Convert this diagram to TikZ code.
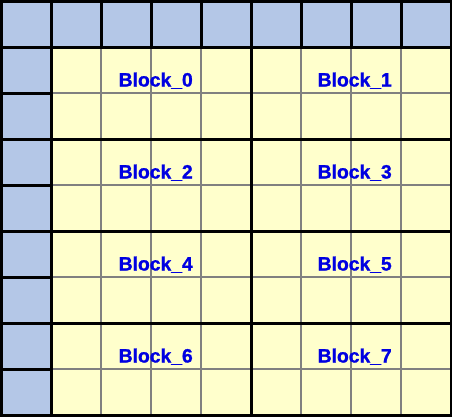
\documentclass[tikz,border=0pt]{standalone}
\usepackage{fontspec}
\setmainfont{Liberation Sans}
\newfontfamily\lblfont[FakeBold=1.2]{Liberation Sans Bold}
\definecolor{hdrblue}{RGB}{180,199,231}
\definecolor{cellyellow}{RGB}{255,255,204}
\definecolor{gridgray}{RGB}{128,128,128}
\definecolor{txtblue}{RGB}{0,0,225}
\tikzset{
  thickline/.style={draw=black,line width=3pt,line cap=rect},
  thinline/.style={draw=gridgray,line width=2pt},
  blocklabel/.style={anchor=base west,inner sep=0pt,text=txtblue,font=\lblfont\fontsize{19.3pt}{21pt}\selectfont}
}
\begin{document}
\begin{tikzpicture}[x=1pt,y=-1pt]
\useasboundingbox (0,0) rectangle (452,416);
% fills
\fill[hdrblue] (1,1) rectangle (451,47);
\fill[hdrblue] (1,47) rectangle (51,415);
\fill[cellyellow] (51,47) rectangle (451,415);
% thin gray grid in yellow area
\foreach \x in {101,151,201,301,351,401} \draw[thinline] (\x,47) -- (\x,415);
\foreach \y in {93,185,277,369} \draw[thinline] (51,\y) -- (451,\y);
% header separators
\foreach \x in {1,51,...,451} \draw[thickline] (\x,1) -- (\x,47);
\foreach \y in {1,47,...,415} \draw[thickline] (1,\y) -- (51,\y);
% block borders
\foreach \x in {1,51,251,451} \draw[thickline] (\x,1) -- (\x,415);
\foreach \y in {1,47,139,231,323,415} \draw[thickline] (1,\y) -- (451,\y);
% labels
\foreach \i in {0,...,3} {
  \pgfmathsetmacro{\yb}{47+92*\i+39.5}
  \pgfmathtruncatemacro{\a}{2*\i}
  \pgfmathtruncatemacro{\b}{2*\i+1}
  \node[blocklabel] (lbl\a) at (118.5,\yb) {Block\_\a};
  \node[blocklabel] (lbl\b) at (317.5,\yb) {Block\_\b};
}
\end{tikzpicture}
\end{document}
